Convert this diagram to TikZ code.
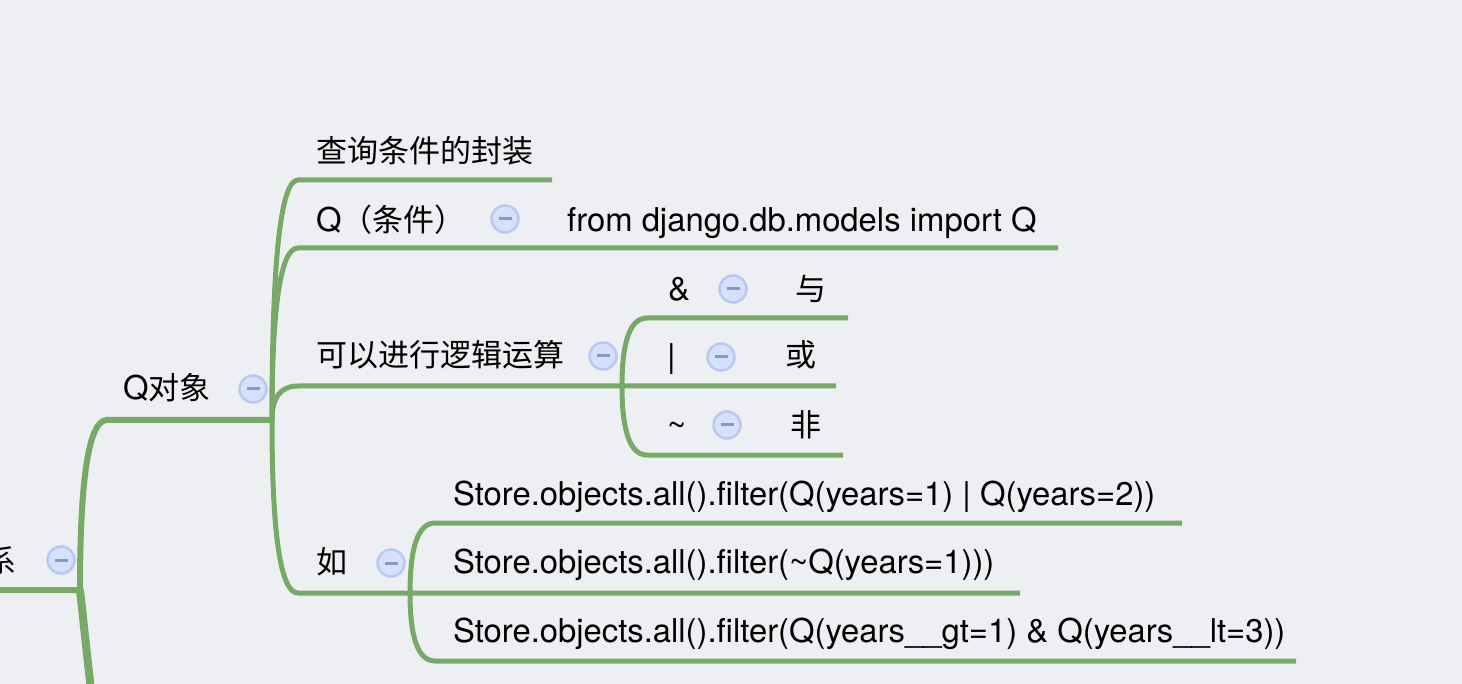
\documentclass[tikz,border=0pt]{standalone}
\usepackage{fontspec}
\usetikzlibrary{calc}
\setmainfont{TeX Gyre Heros}
\newfontfamily\cjk[Scale=0.945]{Noto Sans CJK SC}
\definecolor{mapgreen}{RGB}{118,170,102}
\definecolor{mapbg}{RGB}{238,239,242}
\definecolor{foldfill}{RGB}{213,224,252}
\definecolor{foldedge}{RGB}{185,200,240}
\definecolor{foldbar}{RGB}{140,150,195}
% curved branch from a fork (#1) to the start of a topic line (#2)
\newcommand{\mapcurve}[2]{($(#1)!0.667!(#1|-#2)$)and($(#2)!0.667!(#1|-#2)$)}

\begin{document}
\begin{tikzpicture}[x=1pt,y=-1pt,
    branch/.style={draw=mapgreen,line width=5pt},
    trunk/.style={draw=mapgreen,line width=6pt},
    topic/.style={anchor=base west,inner sep=0pt,font=\fontsize{32.8}{39}\selectfont},
    fold/.style={circle,draw=foldedge,fill=foldfill,line width=2.5pt,minimum size=27pt,inner sep=0pt,
      path picture={\draw[foldbar,line width=3pt] ([xshift=-6.5pt]path picture bounding box.center)
        -- ([xshift=6.5pt]path picture bounding box.center);}}]
    \path[use as bounding box,fill=mapbg](0,0)rectangle(1462,684);
    \clip(0,0)rectangle(1462,684);
    % end points of the branches
    \coordinate(rootL)at(-10,590);
    \coordinate(rootF)at(80,590);
    \coordinate(rootD)at(92,700);
    \coordinate(qT)at(107,420);
    \coordinate(qF)at(272,420);
    \coordinate(cT)at(298,180);
    \coordinate(cE)at(552,180);
    \coordinate(kT)at(298,248);
    \coordinate(kE)at(1058,248);
    \coordinate(lT)at(298,386);
    \coordinate(lF)at(622,386);
    \coordinate(oE)at(836,386);
    \coordinate(aT)at(647,318);
    \coordinate(aE)at(848,318);
    \coordinate(nT)at(647,455);
    \coordinate(nE)at(843,455);
    \coordinate(rT)at(298,593);
    \coordinate(rF)at(410,593);
    \coordinate(s2E)at(1020,593);
    \coordinate(s1T)at(435,523);
    \coordinate(s1E)at(1182,523);
    \coordinate(s3T)at(435,661);
    \coordinate(s3E)at(1296,661);
    % branches
    \draw[trunk](rootL)--(rootF)..controls\mapcurve{rootF}{qT}..(qT)--(qF);
    \draw[trunk,line width=8pt](rootF)--(rootD);
    \draw[branch](qF)..controls\mapcurve{qF}{cT}..(cT)--(cE);
    \draw[branch](qF)..controls\mapcurve{qF}{kT}..(kT)--(kE);
    \draw[branch](qF)..controls\mapcurve{qF}{lT}..(lT)--(oE);
    \draw[branch](qF)..controls\mapcurve{qF}{rT}..(rT)--(s2E);
    \draw[branch](lF)..controls\mapcurve{lF}{aT}..(aT)--(aE);
    \draw[branch](lF)..controls\mapcurve{lF}{nT}..(nT)--(nE);
    \draw[branch](rF)..controls\mapcurve{rF}{s1T}..(s1T)--(s1E);
    \draw[branch](rF)..controls\mapcurve{rF}{s3T}..(s3T)--(s3E);
    % topics
    \node[topic,anchor=base east](root)at(17,572){\cjk 系};
    \node[topic](qobj)at(123,400){Q\cjk 对象};
    \node[topic](wrap)at(316,163){\cjk 查询条件的封装};
    \node[topic](qcond)at(316,232){Q\cjk （条件）};
    \node[topic](imp)at(567,232){from django.db.models import Q};
    \node[topic](logic)at(316,367){\cjk 可以进行逻辑运算};
    \node[topic](andOp)at(668,301){\&};
    \node[topic](andTx)at(795,301){\cjk 与};
    \node[topic](orOp)at(667,368){|};
    \node[topic](orTx)at(785,367){\cjk 或};
    \node[topic](notOp)at(667,436){\textasciitilde};
    \node[topic](notTx)at(790,436){\cjk 非};
    \node[topic](eg)at(316,573){\cjk 如};
    \node[topic](ex1)at(453,505){Store.objects.all().filter(Q(years=1) | Q(years=2))};
    \node[topic](ex2)at(453,573){Store.objects.all().filter(\textasciitilde Q(years=1)))};
    \node[topic](ex3)at(453,642){Store.objects.all().filter(Q(years\_\_gt=1) \& Q(years\_\_lt=3))};
    % fold buttons
    \node[fold](fRoot)at(61,560){};
    \node[fold](fQobj)at(253,389){};
    \node[fold](fQcond)at(505,219){};
    \node[fold](fLogic)at(603,356){};
    \node[fold](fAnd)at(733,289){};
    \node[fold](fOr)at(721,357){};
    \node[fold](fNot)at(727,425){};
    \node[fold](fEg)at(391,563){};
\end{tikzpicture}
\end{document}
